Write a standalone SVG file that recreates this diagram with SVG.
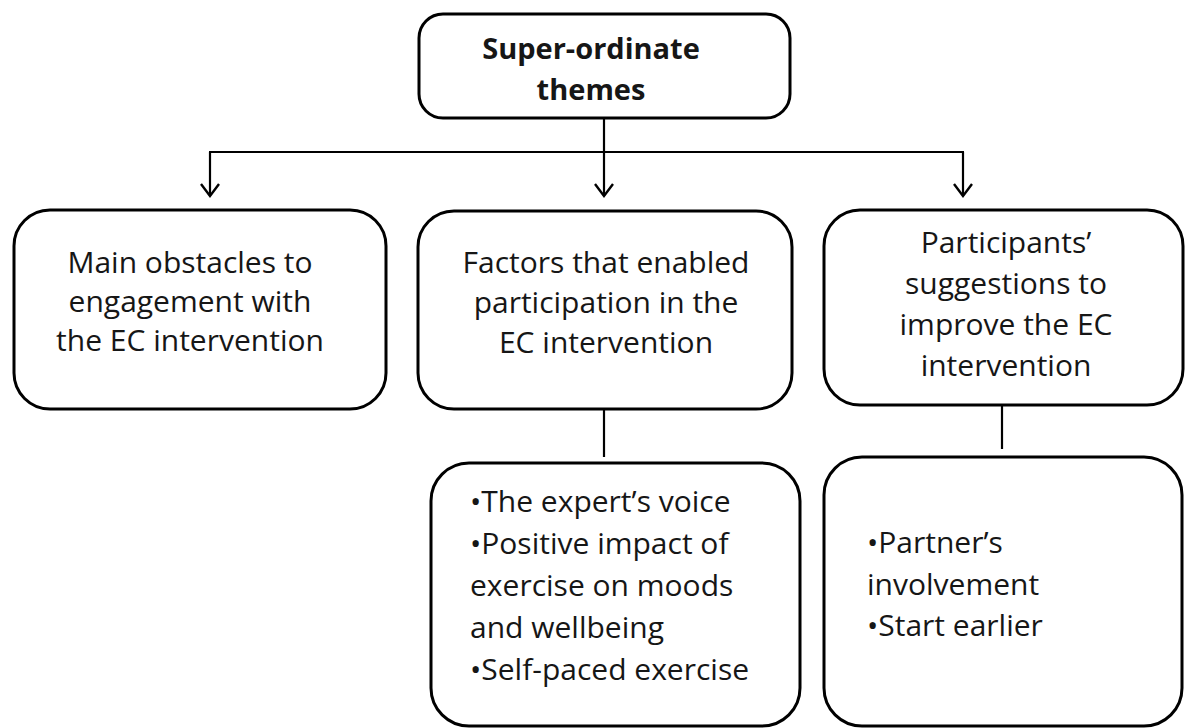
<svg xmlns="http://www.w3.org/2000/svg" width="1186" height="728" viewBox="0 0 1186 728">
  <style>
    .box { fill: #ffffff; stroke: #000000; stroke-width: 3; }
    .conn { fill: none; stroke: #000000; stroke-width: 2.2; }
    .t { font-family: "Open Sans", "Liberation Sans", sans-serif; font-size: 30px; fill: #161616; }
    .c { text-anchor: middle; }
    .b { font-weight: bold; font-size: 29px; }
  </style>
  <defs>
    <marker id="arrow" markerUnits="userSpaceOnUse" markerWidth="30" markerHeight="30" refX="0" refY="0" orient="auto" overflow="visible">
      <path d="M-12,-9 L0,0 L-12,9" fill="none" stroke="#000000" stroke-width="2.4" stroke-linejoin="miter"/>
    </marker>
  </defs>
  <rect width="1186" height="728" fill="#ffffff"/>

  <g id="connectors">
    <line class="conn" x1="604" y1="118" x2="604" y2="152"/>
    <line class="conn" x1="209" y1="152" x2="964" y2="152"/>
    <line class="conn" x1="210" y1="152" x2="210" y2="196" marker-end="url(#arrow)"/>
    <line class="conn" x1="604" y1="152" x2="604" y2="196" marker-end="url(#arrow)"/>
    <line class="conn" x1="963" y1="152" x2="963" y2="196" marker-end="url(#arrow)"/>
    <line class="conn" x1="604" y1="409" x2="604" y2="457"/>
    <line class="conn" x1="1002" y1="405" x2="1002" y2="449"/>
  </g>

  <g id="node-top">
    <rect class="box" x="419" y="14" width="371" height="104" rx="24" ry="24"/>
    <text class="t c b" x="591" y="59">Super-ordinate</text>
    <text class="t c b" x="591" y="100">themes</text>
  </g>

  <g id="node-obstacles">
    <rect class="box" x="14" y="210" width="372" height="199" rx="36" ry="36"/>
    <text class="t c" x="190" y="273">Main obstacles to</text>
    <text class="t c" x="190" y="312">engagement with</text>
    <text class="t c" x="190" y="351">the EC intervention</text>
  </g>

  <g id="node-factors">
    <rect class="box" x="418" y="211" width="374" height="198" rx="36" ry="36"/>
    <text class="t c" x="606" y="273">Factors that enabled</text>
    <text class="t c" x="606" y="313">participation in the</text>
    <text class="t c" x="606" y="353">EC intervention</text>
  </g>

  <g id="node-suggestions">
    <rect class="box" x="824" y="210" width="359" height="195" rx="36" ry="36"/>
    <text class="t c" x="1006" y="253">Participants’</text>
    <text class="t c" x="1006" y="294">suggestions to</text>
    <text class="t c" x="1006" y="335">improve the EC</text>
    <text class="t c" x="1006" y="376">intervention</text>
  </g>

  <g id="node-factors-list">
    <rect class="box" x="431" y="463" width="369" height="263" rx="38" ry="38"/>
    <text class="t" x="470" y="512">•The expert’s voice</text>
    <text class="t" x="470" y="554">•Positive impact of</text>
    <text class="t" x="470" y="596">exercise on moods</text>
    <text class="t" x="470" y="638">and wellbeing</text>
    <text class="t" x="470" y="680">•Self-paced exercise</text>
  </g>

  <g id="node-suggestions-list">
    <rect class="box" x="824" y="457" width="358" height="269" rx="38" ry="38"/>
    <text class="t" x="867" y="553">•Partner’s</text>
    <text class="t" x="867" y="595">involvement</text>
    <text class="t" x="867" y="636">•Start earlier</text>
  </g>
</svg>
